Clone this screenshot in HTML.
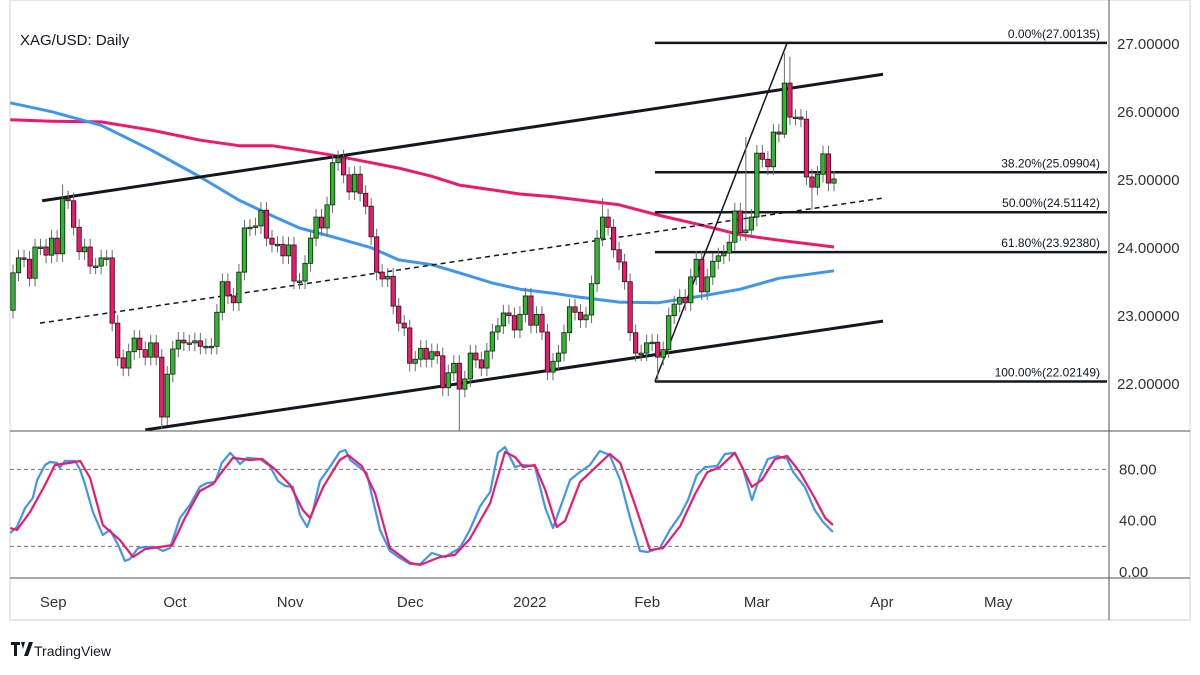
<!DOCTYPE html>
<html><head><meta charset="utf-8"><style>
html,body{margin:0;padding:0;background:#fff;}
svg{display:block;font-family:"Liberation Sans",sans-serif;}
</style></head><body>
<svg id="chart" width="1200" height="675" viewBox="0 0 1200 675" xmlns="http://www.w3.org/2000/svg">
<rect x="10" y="0" width="1180" height="620" fill="#fff" stroke="#e6e8ee" stroke-width="2"/>
<g id="main"></g>
<g id="stoch"></g>
<g id="axes"></g>
<text x="20" y="45" font-size="15" fill="#131722">XAG/USD: Daily</text>
<g>
<path d="M11 642h9v3h-3v11h-3v-11h-3z M21 642h4l-2 7z M24 656l5-14h4l-5 14z" fill="#131722"/>
<text x="34" y="656" font-size="14" fill="#131722">TradingView</text>
</g>
</svg>
<script>
const firstOpen = 23.07;
const closes = [23.62,23.84,23.82,23.54,24.00,24.00,23.88,24.13,23.90,24.71,24.68,24.29,23.93,24.00,23.72,23.72,23.84,23.84,22.88,22.37,22.22,22.46,22.66,22.49,22.38,22.59,22.38,21.50,22.13,22.50,22.63,22.59,22.59,22.62,22.54,22.54,22.54,23.04,23.49,23.28,23.18,23.63,24.28,24.29,24.31,24.54,24.13,24.04,
24.04,23.87,24.03,23.50,23.50,23.76,24.13,24.44,24.28,24.62,25.24,25.31,25.06,24.81,25.07,24.79,24.60,24.15,23.63,23.53,23.57,23.13,22.88,22.81,22.29,22.35,22.51,22.35,22.46,22.40,21.93,22.15,22.29,21.91,22.06,22.44,22.34,22.22,22.47,22.75,22.84,23.03,22.99,22.78,23.01,23.28,22.85,23.01,22.75,22.16,
22.32,22.44,22.74,23.12,23.04,22.93,23.00,23.46,24.13,24.44,24.29,23.96,23.78,23.49,22.74,22.44,22.44,22.59,22.60,22.38,22.49,22.99,23.16,23.26,23.18,23.56,23.82,23.34,23.56,23.79,23.87,23.91,24.07,24.53,
24.21,24.25,24.44,25.38,25.29,25.18,25.69,25.66,26.41,25.91,25.91,25.88,25.03,24.88,25.07,25.37,24.94,25.00];
const wickHigh = {9:24.92,59:25.42,107:24.72,133:25.62,140:26.85,141:26.8};
const wickLow = {27:21.32,81:21.3,117:22.02,135:24.3,140:25.6,145:24.55};
const maIdx = [-0.5,7,16,25,34,41,47,52,58,65,70,76,81,87,92,98,103,110,117,125,132,139,149];
const ma100 = [26.12,25.99,25.79,25.43,25.03,24.69,24.46,24.28,24.15,23.99,23.81,23.74,23.62,23.47,23.38,23.32,23.26,23.19,23.18,23.28,23.38,23.54,23.65];
const ma200 = [25.87,25.85,25.84,25.72,25.57,25.49,25.49,25.43,25.35,25.24,25.16,25.04,24.91,24.84,24.78,24.74,24.69,24.62,24.47,24.32,24.18,24.10,24.00];
const kIdx = [-0.5,0.7,2.2,3.6,4.4,5.8,6.7,8.0,8.5,9.4,11.3,12.2,13.1,14.5,16.3,17.6,19.1,20.3,21.2,22.7,24.0,25.8,27.2,28.5,30.3,32.1,33.9,35.2,36.7,37.9,39.4,40.3,41.2,42.5,44.8,46.6,48.1,49.4,50.8,52.1,53.4,54.4,55.7,57.5,59.3,60.3,61.2,63.0,64.2,66.6,68.4,70.2,72.1,73.9,76.0,78.4,81.1,82.9,84.8,86.6,88.0,89.3,91.1,92.4,94.7,96.6,98.0,99.3,101.1,102.4,104.7,106.5,108.3,110.2,112.0,113.8,115.2,117.4,119.2,121.1,122.5,124.1,125.6,127.8,129.2,131.0,132.5,134.1,135.6,137.0,138.8,140.5,141.6,143.7,145.5,147.0,148.8];
const kVals = [30.4,35.1,49.9,57.7,71.7,83.4,85.7,85.0,81.1,86.5,86.5,79.5,67.8,46.8,28.8,32.7,21.0,8.6,10.1,18.7,19.5,19.5,16.4,18.7,42.1,52.2,66.3,69.4,70.1,85.0,92.8,88.9,84.2,88.9,88.1,82.6,70.9,67.0,66.3,44.4,35.1,46.8,70.9,81.8,93.5,95.1,87.3,81.1,77.2,32.7,16.4,10.9,6.2,6.2,14.8,11.7,18.7,32.7,51.4,62.4,92.8,97.4,81.8,83.4,82.6,49.9,34.3,49.9,71.7,76.4,83.4,94.3,91.2,71.7,42.1,16.4,15.6,18.7,32.7,44.4,56.1,75.6,81.8,82.6,92.0,92.8,80.3,56.1,74.8,88.1,90.4,88.1,77.9,66.3,48.3,39.0,31.2];
const dIdx = [-0.5,0.7,3.1,5.8,7.6,10.3,12.2,14.0,16.3,19.4,21.8,24.0,26.7,28.9,31.2,33.9,36.3,37.9,39.9,43.0,45.2,47.5,50.3,52.6,53.9,56.3,59.3,60.8,63.3,65.7,68.4,72.1,73.9,77.5,80.2,82.9,86.6,89.3,91.1,92.6,94.7,96.6,98.7,100.2,102.9,105.6,108.3,110.2,112.9,115.6,118.0,121.1,123.8,126.0,128.3,131.0,132.8,134.1,135.9,138.3,140.5,142.8,145.5,147.4,148.8];
const dVals = [34.3,32.7,46.8,67.8,83.4,85.0,86.5,73.3,36.6,24.9,11.7,17.9,19.5,21.0,42.1,63.1,68.6,77.9,88.9,87.3,88.1,80.3,67.8,48.3,42.1,66.3,87.3,91.2,82.6,61.6,18.7,7.0,5.5,11.7,13.3,25.7,53.8,93.5,89.6,81.8,83.4,63.9,35.1,39.8,70.1,81.1,92.0,85.0,52.2,17.1,18.7,35.9,60.8,77.9,81.8,92.8,77.9,66.3,71.7,88.1,90.4,77.9,57.7,42.1,36.6];
const priceTicks = [27,26,25,24,23,22];
const stochTicks = [80,40,0];
const stochLevels = [80,20];
const monthLabels = ["Sep","Oct","Nov","Dec","2022","Feb","Mar","Apr","May"];
const monthIdx = [7.3,29.4,50.3,72.1,93.8,115.1,135.0,157.7,178.8];
const upperChannel = [[5.3,24.68],[157.9,26.54]];
const midChannel = [[4.9,22.88],[157.9,24.72]];
const lowerChannel = [[24.0,21.31],[157.9,22.91]];
const fibLeg = [[116.5,22.02149],[140.5,27.00135]];
const fibLabels = ["0.00%(27.00135)","38.20%(25.09904)","50.00%(24.51142)","61.80%(23.92380)","100.00%(22.02149)"];
const fibPrices = [27.00135,25.09904,24.51142,23.92380,22.02149];

const NS="http://www.w3.org/2000/svg";
const X = i => 13 + i*5.51;
const Y = p => 43 + (27-p)*68;
const S = v => 572 - v*1.283;
function mk(parent, tag, attrs){const e=document.createElementNS(NS,tag);for(const k in attrs)e.setAttribute(k,attrs[k]);parent.appendChild(e);return e;}
const main=document.getElementById('main'), st=document.getElementById('stoch'), ax=document.getElementById('axes');

// clip main
const defs=mk(document.getElementById('chart'),'defs',{});
const cp=mk(defs,'clipPath',{id:'cm'}); mk(cp,'rect',{x:10,y:0,width:1099,height:431});
const cs=mk(defs,'clipPath',{id:'cs'}); mk(cs,'rect',{x:10,y:431,width:1099,height:147});
main.setAttribute('clip-path','url(#cm)'); st.setAttribute('clip-path','url(#cs)');

function poly(parent, idx, vals, fy, color, w, name){
  const pts=idx.map((i,k)=>X(i).toFixed(1)+','+fy(vals[k]).toFixed(1)).join(' ');
  const e=mk(parent,'polyline',{points:pts,fill:'none',stroke:color,'stroke-width':w,'stroke-linejoin':'round'});
  
  
}
function seg(parent, a, b, color, w, dash, name){
  const e=mk(parent,'line',{x1:X(a[0]),y1:Y(a[1]),x2:X(b[0]),y2:Y(b[1]),stroke:color,'stroke-width':w});
  if(dash)e.setAttribute('stroke-dasharray',dash);
  
  
}
// MAs
poly(main, maIdx, ma200, Y, '#f0186b', 3, 'ma-200-line');
poly(main, maIdx, ma100, Y, '#3d97f0', 3, 'ma-100-line');
// channel
seg(main, upperChannel[0], upperChannel[1], '#131722', 3, null, 'upper-channel-line');
seg(main, midChannel[0], midChannel[1], '#131722', 1.5, '5,4', 'mid-channel-line');
seg(main, lowerChannel[0], lowerChannel[1], '#131722', 3, null, 'lower-channel-line');
// fib
fibPrices.forEach((p,k)=>{
  const l=mk(main,'line',{x1:X(fibLeg[0][0]),y1:Y(p),x2:1107,y2:Y(p),stroke:'#131722','stroke-width':2.5});
  
  
  const t=mk(main,'text',{x:1100,y:Y(p)-5,'font-size':12,'text-anchor':'end',fill:'#131722'});
  t.textContent=fibLabels[k];
  
  
});
seg(main, fibLeg[0], fibLeg[1], '#131722', 1.5, null, 'fib-leg-line');
// candles
let prev=firstOpen;
closes.forEach((c,i)=>{
  const o=prev; prev=c;
  const hi = wickHigh[i]!==undefined?wickHigh[i]:Math.max(o,c)+0.12;
  const lo = wickLow[i]!==undefined?wickLow[i]:Math.min(o,c)-0.12;
  const g=mk(main,'g',{});
  
  
  const x=X(i);
  mk(g,'line',{x1:x,y1:Y(hi),x2:x,y2:Y(lo),stroke:'#6b6b6b','stroke-width':1});
  const top=Y(Math.max(o,c)), h=Math.max(1.5,Math.abs(Y(o)-Y(c)));
  mk(g,'rect',{x:x-2.2,y:top,width:4.4,height:h,fill:c>=o?'#2eb82e':'#f0186b',stroke:'#1a1a1a','stroke-width':0.8});
});
// stoch
stochLevels.forEach(v=>{
  const l=mk(st,'line',{x1:10,y1:S(v),x2:1109,y2:S(v),stroke:'#777','stroke-width':1,'stroke-dasharray':'4,3'});
  
  
});
poly(st, kIdx, kVals, S, '#3d97f0', 2.2, 'stoch-k-line');
poly(st, dIdx, dVals, S, '#f0186b', 2.2, 'stoch-d-line');
// axes lines
mk(ax,'line',{x1:1109,y1:0,x2:1109,y2:620,stroke:'#555','stroke-width':1});
mk(ax,'line',{x1:10,y1:431,x2:1190,y2:431,stroke:'#555','stroke-width':1});
mk(ax,'line',{x1:10,y1:578,x2:1190,y2:578,stroke:'#555','stroke-width':1});
priceTicks.forEach(p=>{
  const t=mk(ax,'text',{x:1117,y:Y(p)+6,'font-size':15,fill:'#333'});
  t.textContent=p.toFixed(5);
  
  
});
stochTicks.forEach(v=>{
  const t=mk(ax,'text',{x:1119,y:S(v)+5,'font-size':15,fill:'#333'});
  t.textContent=v.toFixed(2);
  
  
});
monthLabels.forEach((m,k)=>{
  const t=mk(ax,'text',{x:X(monthIdx[k]),y:607,'font-size':15,'text-anchor':'middle',fill:'#333'});
  t.textContent=m;
  
  
});
</script>
</body></html>
